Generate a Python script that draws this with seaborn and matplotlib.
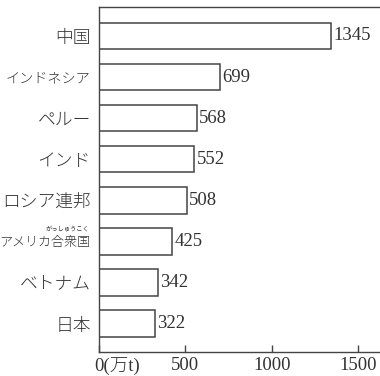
import matplotlib
matplotlib.use("Agg")
import matplotlib.pyplot as plt
import matplotlib.transforms as mtransforms
import seaborn as sns
import pandas as pd

countries = ["中国", "インドネシア", "ペルー", "インド", "ロシア連邦", "アメリカ合衆国", "ベトナム", "日本"]
values = [1345, 699, 568, 552, 508, 425, 342, 322]
xticks = [0, 500, 1000, 1500]
xtick_labels = ["0(万t)", "500", "1000", "1500"]
ruby = "がっしゅうこく"

sns.set_theme(style="white")
plt.rcParams["font.family"] = ["Noto Sans CJK JP", "DejaVu Sans"]

df = pd.DataFrame({"country": countries, "value": values})

fig = plt.figure(figsize=(3.8, 3.76), dpi=100)
ax = fig.add_axes([99/380, 1-352/376, 1-99/380-0.001, (352-7)/376])

sns.barplot(data=df, x="value", y="country", orient="h", color="white",
            saturation=1, edgecolor="#444444", linewidth=1.1, width=0.64, ax=ax)

ax.set_xlim(0, 1624)
ax.set_ylim(7.69, -0.705)
ax.set_xlabel("")
ax.set_ylabel("")

dark = "#333333"
for s in ["left", "bottom", "top"]:
    ax.spines[s].set_visible(True)
    ax.spines[s].set_color("#444444")
    ax.spines[s].set_linewidth(1.0)
ax.spines["right"].set_visible(False)

ax.set_xticks(xticks)
ax.set_xticklabels(xtick_labels, fontfamily=["Liberation Serif", "Noto Sans CJK JP"],
                   fontsize=13.5, color=dark)
ax.tick_params(axis="x", direction="in", length=5, width=1, color="#444444", pad=3.8, bottom=True)
ax.tick_params(axis="y", length=0, pad=6)

first = ax.get_xticklabels()[0]
first.set_horizontalalignment("left")
first.set_fontweight("light")
first.set_transform(first.get_transform() + mtransforms.ScaledTranslation(-4.8/100, 0, fig.dpi_scale_trans))

sizes = {"インドネシア": 10.2, "アメリカ合衆国": 9.4}
for lab in ax.get_yticklabels():
    lab.set_fontsize(sizes.get(lab.get_text(), 12.8))
    lab.set_color(dark)
    lab.set_fontweight("light")

for i, v in enumerate(values):
    ax.annotate(str(v), xy=(v, i), xytext=(1.5, 0), textcoords="offset points",
                ha="left", va="center", fontfamily="Liberation Serif", fontsize=13.5, color=dark)

# ruby above 合衆国
ax.annotate(ruby, xy=(0, 5), xycoords=("axes fraction", "data"),
            xytext=(-22.5, 8.5), textcoords="offset points", ha="center", va="center",
            fontsize=4.5, color=dark, annotation_clip=False)

fig.savefig("out.png", dpi=100)
